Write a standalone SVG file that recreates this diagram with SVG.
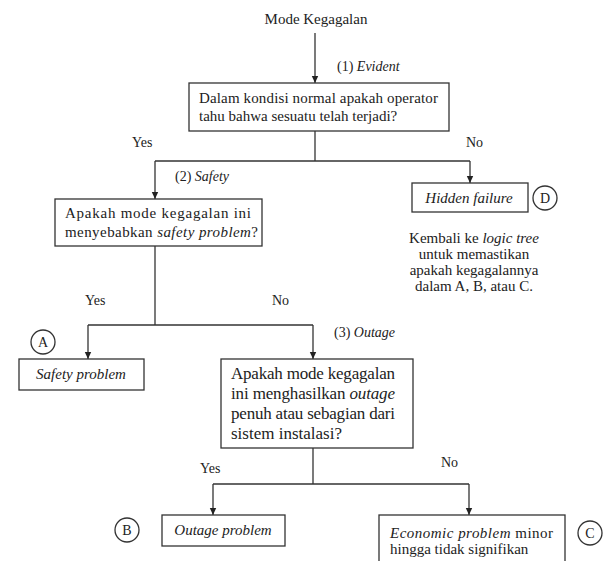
<svg xmlns="http://www.w3.org/2000/svg" width="609" height="561" viewBox="0 0 609 561">
<style>
text{font-family:"Liberation Serif","Times New Roman",serif;fill:#222;}
.t14{font-size:14px;}
.t15{font-size:15px;}
.t17{font-size:17px;}
.i{font-style:italic;}
.box{fill:#fff;stroke:#333;stroke-width:1.3;}
.ln{fill:none;stroke:#333;stroke-width:1.3;}
.circ{fill:#fff;stroke:#333;stroke-width:1.3;}
.mid{text-anchor:middle;}
</style>
<defs>
<marker id="arr" markerWidth="8" markerHeight="8" refX="7" refY="4" orient="auto" markerUnits="userSpaceOnUse">
<path d="M0,0.8 L7,4 L0,7.2 Z" fill="#222"/>
</marker>
</defs>
<rect width="609" height="561" fill="#fff"/>
<g id="connectors">
<path class="ln" d="M315,33 V83" marker-end="url(#arr)"/>
<path class="ln" d="M315,131 V161"/>
<path class="ln" d="M155,161 H470"/>
<path class="ln" d="M155,161 V199" marker-end="url(#arr)"/>
<path class="ln" d="M470,161 V183" marker-end="url(#arr)"/>
<path class="ln" d="M155,246 V325"/>
<path class="ln" d="M88,325 H313"/>
<path class="ln" d="M88,325 V359" marker-end="url(#arr)"/>
<path class="ln" d="M313,325 V359" marker-end="url(#arr)"/>
<path class="ln" d="M313,448 V484"/>
<path class="ln" d="M213,484 H469"/>
<path class="ln" d="M213,484 V515" marker-end="url(#arr)"/>
<path class="ln" d="M469,484 V515" marker-end="url(#arr)"/>
<text class="t14" x="337" y="71"><tspan>(1) </tspan><tspan class="i">Evident</tspan></text>
<text class="t14" x="132" y="147">Yes</text>
<text class="t14" x="466" y="147">No</text>
<text class="t14" x="175" y="181"><tspan>(2) </tspan><tspan class="i">Safety</tspan></text>
<text class="t14" x="85" y="305">Yes</text>
<text class="t14" x="272" y="305">No</text>
<text class="t14" x="334" y="337"><tspan>(3) </tspan><tspan class="i">Outage</tspan></text>
<text class="t14" x="200" y="473">Yes</text>
<text class="t14" x="441" y="467">No</text>
</g>
<g id="title">
<text class="t15 mid" x="316" y="24">Mode Kegagalan</text>
</g>
<g id="q1">
<rect class="box" x="189" y="83" width="260" height="48"/>
<text class="t15" x="199" y="103" textLength="239" lengthAdjust="spacing">Dalam kondisi normal apakah operator</text>
<text class="t15" x="199" y="121">tahu bahwa sesuatu telah terjadi?</text>
</g>
<g id="q2">
<rect class="box" x="55" y="199" width="207" height="47"/>
<text class="t15" x="65" y="218" textLength="186" lengthAdjust="spacing">Apakah mode kegagalan ini</text>
<text class="t15" x="65" y="237" textLength="193" lengthAdjust="spacing">menyebabkan <tspan class="i">safety problem</tspan>?</text>
</g>
<g id="hidden">
<rect class="box" x="412" y="183" width="116" height="29"/>
<text class="t15 i mid" x="469" y="203">Hidden failure</text>
</g>
<g id="D">
<circle class="circ" cx="545" cy="198" r="12"/>
<text class="t14 mid" x="545" y="203">D</text>
</g>
<g id="note">
<text class="t15 mid" x="474" y="243">Kembali ke <tspan class="i">logic tree</tspan></text>
<text class="t15 mid" x="474" y="259">untuk memastikan</text>
<text class="t15 mid" x="474" y="275">apakah kegagalannya</text>
<text class="t15 mid" x="474" y="291">dalam A, B, atau C.</text>
</g>
<g id="A">
<circle class="circ" cx="43" cy="342" r="12"/>
<text class="t14 mid" x="43" y="347">A</text>
</g>
<g id="safety">
<rect class="box" x="19" y="359" width="125" height="31"/>
<text class="t15 i mid" x="81" y="379">Safety problem</text>
</g>
<g id="q3">
<rect class="box" x="221" y="359" width="192" height="89"/>
<text class="t17" x="231" y="379" textLength="164" lengthAdjust="spacing">Apakah mode kegagalan</text>
<text class="t17" x="231" y="399" textLength="164" lengthAdjust="spacing">ini menghasilkan <tspan class="i">outage</tspan></text>
<text class="t17" x="231" y="419" textLength="164" lengthAdjust="spacing">penuh atau sebagian dari</text>
<text class="t17" x="231" y="439">sistem instalasi?</text>
</g>
<g id="B">
<circle class="circ" cx="127" cy="530" r="12"/>
<text class="t14 mid" x="127" y="535">B</text>
</g>
<g id="outage">
<rect class="box" x="162" y="515" width="123" height="31"/>
<text class="t15 i mid" x="223" y="535">Outage problem</text>
</g>
<g id="economic">
<rect class="box" x="379" y="515" width="186" height="50"/>
<text class="t15" x="390" y="538" textLength="163" lengthAdjust="spacing"><tspan class="i">Economic problem</tspan> minor</text>
<text class="t15" x="390" y="554">hingga tidak signifikan</text>
</g>
<g id="C">
<circle class="circ" cx="590" cy="533" r="12"/>
<text class="t14 mid" x="590" y="538">C</text>
</g>
</svg>
